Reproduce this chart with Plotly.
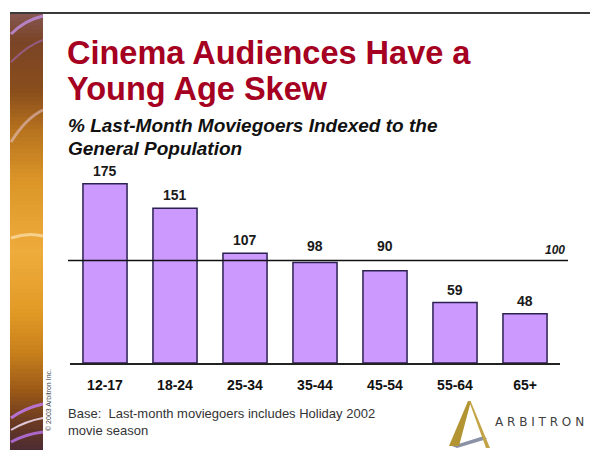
import plotly.graph_objects as go

# ---- data ----
age_groups = ["12-17", "18-24", "25-34", "35-44", "45-54", "55-64", "65+"]
index_values = [175, 151, 107, 98, 90, 59, 48]
general_population = 100

title_lines = ["Cinema Audiences Have a", "Young Age Skew"]
subtitle_lines = ["% Last-Month Moviegoers Indexed to the", "General Population"]
base_note_lines = ["Base:  Last-month moviegoers includes Holiday 2002", "movie season"]
copyright_text = "\u00a9 2003 Arbitron Inc."
brand_text = "A R B I T R O N"

# ---- page geometry (pixels) ----
W, H = 590, 450
ML, MR, MT, MB = 70, 30, 158, 87
PW, PH = W - ML - MR, H - MT - MB


def px(x):
    return (x - ML) / PW


def py(y):
    return (H - MB - y) / PH


def path(points, close=True):
    s = "M " + " L ".join(f"{px(x):.5f},{py(y):.5f}" for x, y in points)
    return s + (" Z" if close else "")


def qcurve(p0, c, p1):
    return (f"M {px(p0[0]):.5f},{py(p0[1]):.5f} Q {px(c[0]):.5f},{py(c[1]):.5f} "
            f"{px(p1[0]):.5f},{py(p1[1]):.5f}")


def hex_to_rgb(h):
    h = h.lstrip("#")
    return tuple(int(h[i:i + 2], 16) for i in (0, 2, 4))


def mix(c1, c2, t):
    a, b = hex_to_rgb(c1), hex_to_rgb(c2)
    return "rgb({},{},{})".format(*[round(a[i] + (b[i] - a[i]) * t) for i in range(3)])


fig = go.Figure()

fig.add_trace(go.Bar(
    x=age_groups,
    y=index_values,
    width=0.63,
    marker=dict(color="#CC99FF", line=dict(color="#2b2050", width=1.5)),
    hoverinfo="x+y",
))

shapes = []

# decorative side stripe: vertical warm gradient
stripe_stops = [(13, "#85554e"), (40, "#7a4426"), (90, "#8a4e1c"), (130, "#b8741e"),
                (180, "#dc9628"), (250, "#eeac3c"), (310, "#e29a26"), (350, "#c8801c"),
                (390, "#9a5818"), (420, "#6a3a22"), (450, "#4a2a34")]
step = 4
y = 13
while y < H:
    for (y0, c0), (y1, c1) in zip(stripe_stops[:-1], stripe_stops[1:]):
        if y0 <= y <= y1:
            col = mix(c0, c1, (y - y0) / (y1 - y0))
            break
    shapes.append(dict(type="rect", xref="paper", yref="paper",
                       x0=px(10), x1=px(43), y0=py(y), y1=py(min(y + step + 0.5, H)),
                       fillcolor=col, line=dict(width=0), layer="below"))
    y += step

# light streaks across the stripe
streaks = [
    ((11, 34), (25, 20), (43, 16), "rgba(190,140,220,0.85)", 3),
    ((11, 62), (28, 45), (43, 40), "rgba(170,110,200,0.55)", 2),
    ((11, 142), (26, 118), (43, 110), "rgba(240,210,230,0.5)", 3),
    ((11, 238), (27, 232), (43, 236), "rgba(255,235,200,0.6)", 3),
    ((11, 418), (25, 408), (43, 404), "rgba(190,120,230,0.9)", 3),
    ((11, 430), (26, 421), (43, 418), "rgba(245,225,250,0.85)", 2),
    ((11, 442), (26, 434), (43, 432), "rgba(180,110,220,0.9)", 3),
]
for p0, c, p1, col, w in streaks:
    shapes.append(dict(type="path", xref="paper", yref="paper", path=qcurve(p0, c, p1),
                       line=dict(color=col, width=w), layer="below"))

# top frame rule
shapes.append(dict(type="line", xref="paper", yref="paper",
                   x0=px(10), x1=px(W), y0=py(13), y1=py(13),
                   line=dict(color="#3a3a3a", width=2)))

# general population reference line
shapes.append(dict(type="line", xref="paper", yref="y",
                   x0=px(68), x1=px(568), y0=general_population, y1=general_population,
                   line=dict(color="#111111", width=1.5), layer="above"))

# brand mark
shapes.append(dict(type="path", xref="paper", yref="paper",
                   path=path([(452, 446), (484, 436), (487, 439), (457, 448)]),
                   fillcolor="#8c92a6", line=dict(width=0)))
shapes.append(dict(type="path", xref="paper", yref="paper",
                   path=path([(468, 401), (471, 401), (459, 446), (449, 446)]),
                   fillcolor="#b39432", line=dict(width=0)))
shapes.append(dict(type="path", xref="paper", yref="paper",
                   path=path([(469, 401), (471, 402), (490, 448), (486, 448)]),
                   fillcolor="#c2a446", line=dict(width=0)))

annotations = []

# bar value labels; labels of bars just under the reference line sit above it
for cat, val in zip(age_groups, index_values):
    lifted = 0 < general_population - val < 12
    annotations.append(dict(x=cat, y=general_population if lifted else val,
                            xref="x", yref="y", text=str(val),
                            showarrow=False, yanchor="bottom", yshift=5 if lifted else 3,
                            font=dict(family="Liberation Sans, Arial", size=14,
                                      color="#1a1a1a", weight="bold")))

annotations.append(dict(x=px(567), y=general_population, xref="paper", yref="y",
                        text=str(general_population), showarrow=False,
                        xanchor="right", yanchor="bottom", yshift=2,
                        font=dict(family="Liberation Sans, Arial", size=12,
                                  color="#1a1a1a", style="italic", weight="bold")))

for text, yc in zip(title_lines, (53, 89)):
    annotations.append(dict(x=px(65), y=py(yc), xref="paper", yref="paper", text=text,
                            showarrow=False, xanchor="left", yanchor="middle",
                            font=dict(family="Liberation Sans, Arial", size=32.5,
                                      color="#a50021", weight="bold")))

for text, yc in zip(subtitle_lines, (125, 148)):
    annotations.append(dict(x=px(66), y=py(yc), xref="paper", yref="paper", text=text,
                            showarrow=False, xanchor="left", yanchor="middle",
                            font=dict(family="Liberation Sans, Arial", size=19,
                                      color="#111111", weight="bold", style="italic")))

for text, yc in zip(base_note_lines, (413, 430)):
    annotations.append(dict(x=px(66), y=py(yc), xref="paper", yref="paper", text=text,
                            showarrow=False, xanchor="left", yanchor="middle",
                            font=dict(family="Liberation Sans, Arial", size=13,
                                      color="#333333")))

annotations.append(dict(x=px(48), y=py(400), xref="paper", yref="paper",
                        text=copyright_text, showarrow=False, textangle=-90,
                        xanchor="center", yanchor="middle",
                        font=dict(family="Liberation Sans, Arial", size=7, color="#444444")))

annotations.append(dict(x=px(493), y=py(422), xref="paper", yref="paper",
                        text=brand_text, showarrow=False, xanchor="left", yanchor="middle",
                        font=dict(family="DejaVu Sans, Liberation Sans", size=12,
                                  color="#404040")))

fig.update_layout(
    width=W, height=H,
    margin=dict(l=ML, r=MR, t=MT, b=MB, pad=0),
    paper_bgcolor="white", plot_bgcolor="white",
    showlegend=False,
    shapes=shapes,
    annotations=annotations,
    bargap=0.37,
    xaxis=dict(showline=True, linecolor="#222222", linewidth=1.5, ticks="",
               showgrid=False, zeroline=False, ticklabelstandoff=8,
               tickfont=dict(family="Liberation Sans, Arial", size=14, color="#111111",
                             weight="bold"),
               range=[-0.5, 6.5], fixedrange=True),
    yaxis=dict(visible=False, range=[0, 200], showgrid=False, zeroline=False,
               fixedrange=True),
)

fig.write_html("out.html")
